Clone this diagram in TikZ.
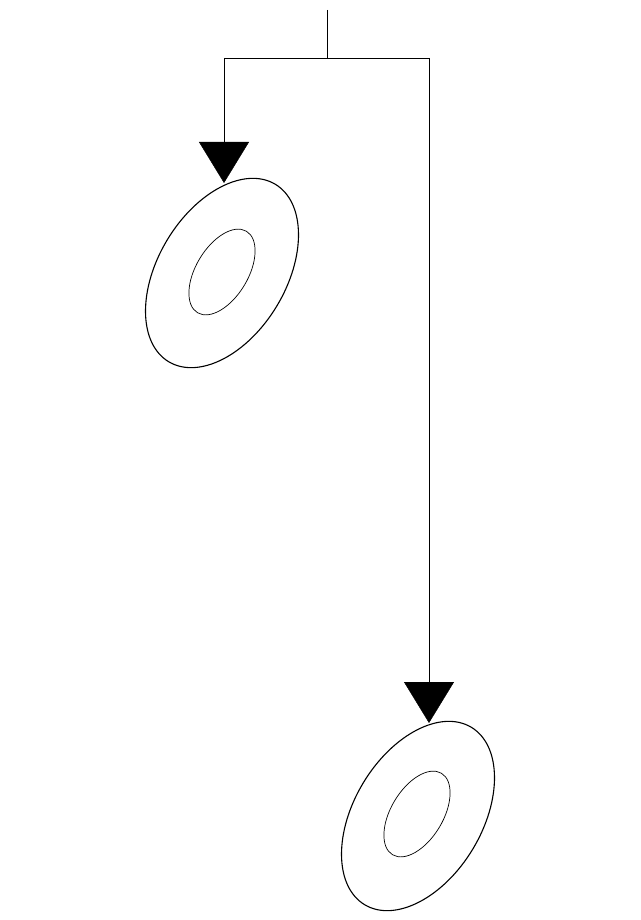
\documentclass[tikz,border=0pt]{standalone}
\usetikzlibrary{arrows.meta,shapes.geometric}
\begin{document}
\begin{tikzpicture}[x=1pt,y=-1pt,>={Triangle[width=50pt,length=41pt]},
    disc/.style={ellipse,draw,line width=1.1pt,inner sep=0pt,minimum width=207pt,minimum height=128pt,rotate=59},
    hole/.style={ellipse,draw,line width=0.7pt,inner sep=0pt,minimum width=95pt,minimum height=52pt,rotate=59}]
  \useasboundingbox (0,0) rectangle (640,920);
  \node[disc] (d1) at (222,273) {};
  \node[hole] (h1) at (222,272) {};
  \node[disc] (d2) at (418,816) {};
  \node[hole] (h2) at (417,814) {};

  \coordinate (s)  at (327,10);
  \coordinate (j)  at (327,58);
  \coordinate (jl) at (224,58);
  \coordinate (jr) at (429,58);
  \coordinate (t1) at (224,183);
  \coordinate (t2) at (429,723);

  \path[draw] (s) -- (j)
        (jl) -- (jr);
  \path[->] (jl) edge (t1)
        (jr) edge (t2);
\end{tikzpicture}
\end{document}
